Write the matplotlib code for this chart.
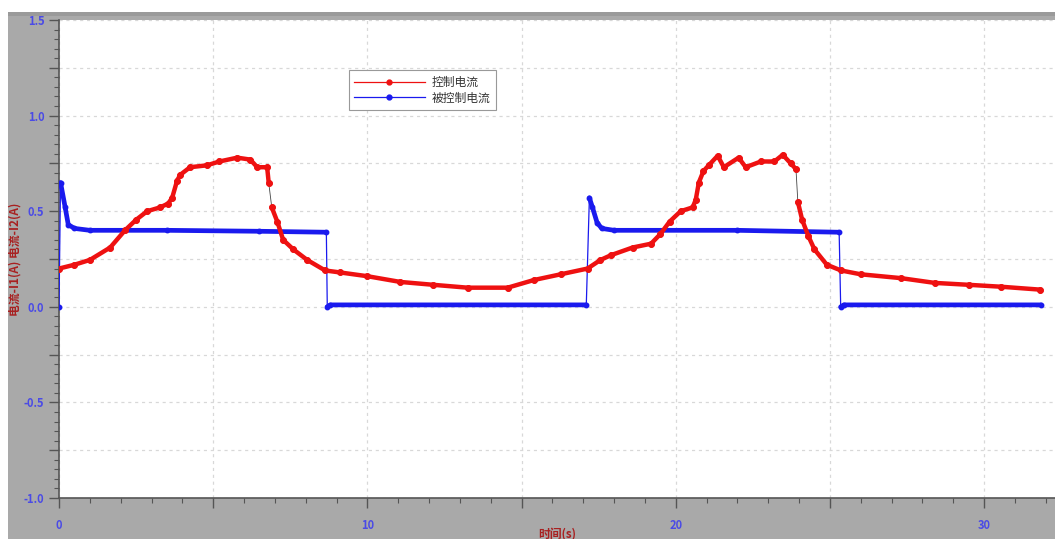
import matplotlib
matplotlib.use("Agg")
import matplotlib.pyplot as plt
import numpy as np
from matplotlib.lines import Line2D
from matplotlib.patches import Rectangle
from matplotlib.ticker import MultipleLocator, FuncFormatter

plt.rcParams['font.family'] = ['Noto Sans CJK SC', 'DejaVu Sans']

# 控制电流 (red)
red_t = [0.0, 0.5, 1.0, 1.66, 2.14, 2.5, 2.86, 3.28, 3.54, 3.67, 3.83, 3.93, 4.25, 4.8, 5.2,
         5.78, 6.2, 6.43, 6.75, 6.8, 6.9, 7.08, 7.27, 7.6, 8.05, 8.63, 9.1, 10.0, 11.07, 12.14,
         13.25, 14.55, 15.4, 16.27, 17.14, 17.56, 17.9, 18.6, 19.2, 19.5, 19.8, 20.16, 20.55,
         20.65, 20.75, 20.9, 21.07, 21.36, 21.56, 22.04, 22.27, 22.76, 23.2, 23.47, 23.73, 23.9,
         23.96, 24.1, 24.3, 24.5, 24.9, 25.36, 26.0, 27.3, 28.4, 29.5, 30.55, 31.8]
red_v = [0.20, 0.22, 0.245, 0.31, 0.40, 0.455, 0.50, 0.52, 0.54, 0.57, 0.66, 0.69, 0.73, 0.74, 0.76,
         0.78, 0.77, 0.73, 0.73, 0.65, 0.52, 0.445, 0.35, 0.30, 0.245, 0.19, 0.18, 0.16, 0.13, 0.115,
         0.10, 0.10, 0.14, 0.17, 0.20, 0.245, 0.27, 0.31, 0.33, 0.38, 0.445, 0.50, 0.52,
         0.56, 0.65, 0.71, 0.74, 0.79, 0.73, 0.78, 0.73, 0.76, 0.76, 0.795, 0.75, 0.72,
         0.55, 0.455, 0.37, 0.30, 0.22, 0.19, 0.17, 0.15, 0.125, 0.115, 0.105, 0.09]

# 被控制电流 (blue)
blue_t = [0.0, 0.05, 0.2, 0.3, 0.5, 1.0, 3.5, 6.5, 8.67, 8.7, 8.8, 17.1, 17.2, 17.3, 17.45,
          17.6, 18.0, 22.0, 25.3, 25.35, 25.45, 31.85]
blue_v = [0.0, 0.65, 0.52, 0.43, 0.41, 0.40, 0.40, 0.395, 0.39, 0.0, 0.01, 0.01, 0.57, 0.52, 0.44,
          0.41, 0.40, 0.40, 0.39, 0.0, 0.01, 0.01]

labels = ['控制电流', '被控制电流']
red = '#ee1111'
blue = '#1a1aee'
tick_col = '#4a4ae6'
lab_col = '#a82020'

fig = plt.figure(figsize=(10.55, 5.39), dpi=100)
fig.patch.set_facecolor('white')
fig.patches.append(Rectangle((8 / 1055, 0), 1, 1 - 12 / 539, transform=fig.transFigure,
                             facecolor='#a9a9a9', edgecolor='none', zorder=-10))
fig.patches.append(Rectangle((8 / 1055, 1 - 16 / 539), 1, 4 / 539, transform=fig.transFigure,
                             facecolor='#9a9a9a', edgecolor='none', zorder=-9))
ax = fig.add_axes([59 / 1055, 1 - 498 / 539, 1 - 59 / 1055, (498 - 20) / 539])
ax.set_zorder(1)
ax.set_facecolor('white')


def split_jumps(t, v, lim=0.3):
    t = np.asarray(t, float)
    v = np.asarray(v, float)
    tt, vv = [t[0]], [v[0]]
    for i in range(1, len(t)):
        if abs(v[i] - v[i - 1]) > lim:
            tt.append(np.nan)
            vv.append(np.nan)
        tt.append(t[i])
        vv.append(v[i])
    return np.array(tt), np.array(vv)


# thin connecting lines (show the jumps), then the thick dotted traces
ax.plot(blue_t, blue_v, color=blue, lw=0.9, zorder=3)
bt, bv = split_jumps(blue_t, blue_v)
ax.plot(bt, bv, color=blue, lw=3.4, marker='o', ms=3.2, solid_capstyle='round', zorder=3)
ax.plot(red_t, red_v, color='#444444', lw=0.6, zorder=2)
rt, rv = split_jumps(red_t, red_v, lim=0.1)
ax.plot(rt, rv, color=red, lw=3.2, marker='o', ms=3.8, solid_capstyle='round', zorder=4)
ax.plot(red_t, red_v, color=red, lw=0, marker='o', ms=3.8, zorder=4)

ax.set_xlim(0, 32.3)
ax.set_ylim(-1.0, 1.5)

ax.xaxis.set_major_locator(MultipleLocator(5))
ax.xaxis.set_minor_locator(MultipleLocator(1))
ax.yaxis.set_major_locator(MultipleLocator(0.25))
ax.yaxis.set_minor_locator(MultipleLocator(0.05))
ax.xaxis.set_major_formatter(FuncFormatter(lambda x, p: '%d' % round(x) if round(x) % 10 == 0 else ''))
ax.yaxis.set_major_formatter(FuncFormatter(lambda y, p: '%.1f' % y if abs(y * 2 - round(y * 2)) < 1e-6 else ''))

ax.grid(True, which='major', color='#d8d8d8', linestyle=(0, (2.5, 3)), lw=0.9)
ax.tick_params(which='major', direction='out', length=7, width=1, color='#555555',
               labelcolor=tick_col, labelsize=8)
ax.tick_params(which='minor', direction='out', length=3.5, width=0.8, color='#555555')
for lb in ax.get_xticklabels() + ax.get_yticklabels():
    lb.set_fontweight('bold')
ax.tick_params(axis='x', pad=8)

for s in ['top', 'right']:
    ax.spines[s].set_visible(False)
for s in ['left', 'bottom']:
    ax.spines[s].set_color('#555555')
    ax.spines[s].set_linewidth(1.2)

ax.set_ylabel('电流-I1(A) 电流-I2(A)', color=lab_col, fontsize=8.5, fontweight='bold')
ax.yaxis.set_label_coords(-37 / 996, 0.5)
ax.set_xlabel('时间(s)', color=lab_col, fontsize=8.5, fontweight='bold')
ax.xaxis.set_label_coords(0.5, -30 / 478)

handles = [Line2D([], [], color=red, lw=0.9, marker='o', ms=3.5),
           Line2D([], [], color=blue, lw=0.9, marker='o', ms=3.5)]
leg = ax.legend(handles, labels, loc='upper left', bbox_to_anchor=(0.285, 0.907),
                fontsize=8.5, handlelength=6, numpoints=1, fancybox=False,
                edgecolor='#999999', framealpha=1, borderpad=0.45, labelspacing=0.25,
                handletextpad=0.6)
leg.get_frame().set_linewidth(0.8)
for tx in leg.get_texts():
    tx.set_color('#333333')

fig.savefig('out.png', dpi=100)
